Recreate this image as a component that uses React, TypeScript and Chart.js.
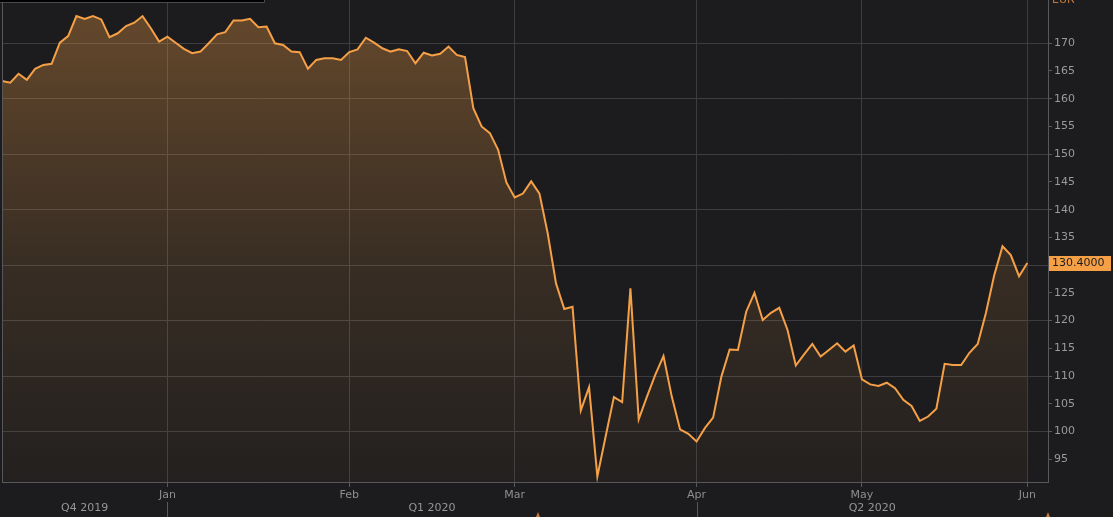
import React, { useEffect, useRef } from "react";
import { Chart, registerables } from "chart.js";

Chart.register(...registerables);

// Daily closing prices (EUR), one per trading day, Dec 2019 – 1 Jun 2020
const prices: number[] = [
  163.2, 162.9, 164.5, 163.4, 165.4, 166.1, 166.3, 170.1, 171.3, 174.9,
  174.4, 174.9, 174.3, 171.1, 171.8, 173.1, 173.7, 174.9, 172.7, 170.3,
  171.2, 170.1, 169.0, 168.2, 168.5, 170.0, 171.6, 172.0, 174.1, 174.1,
  174.4, 172.9, 173.0, 170.0, 169.7, 168.5, 168.4, 165.4, 167.0, 167.3,
  167.3, 167.0, 168.4, 168.9, 171.0, 170.1, 169.1, 168.5, 168.9, 168.6,
  166.4, 168.3, 167.8, 168.1, 169.4, 167.9, 167.5, 158.3, 155.0, 153.8,
  150.8, 144.9, 142.2, 142.9, 145.1, 142.9, 135.7, 126.7, 122.1, 122.5,
  103.8, 108.0, 91.9, 99.1, 106.2, 105.3, 125.8, 102.2, 106.3, 110.2,
  113.6, 106.3, 100.4, 99.6, 98.2, 100.6, 102.5, 109.9, 114.8, 114.7,
  121.6, 125.0, 120.1, 121.4, 122.3, 118.3, 111.9, 113.9, 115.8, 113.5,
  114.7, 115.9, 114.4, 115.5, 109.4, 108.5, 108.2, 108.8, 107.8, 105.7,
  104.6, 101.9, 102.7, 104.1, 112.2, 112.0, 112.0, 114.2, 115.8, 121.4,
  128.2, 133.4, 131.8, 128.0, 130.4,
];

// Trading-day index of the first session of each month
const monthTickIndex: number[] = [20, 42, 62, 84, 104, 124];
const monthLabels: string[] = ["Jan", "Feb", "Mar", "Apr", "May", "Jun"];

// Trading-day index where each quarter starts (first one is the visible start)
const quarterStartIndex: number[] = [0, 20, 84];
const quarterLabels: string[] = ["Q4 2019", "Q1 2020", "Q2 2020"];

const yTickValues: number[] = [95, 100, 105, 110, 115, 120, 125, 130, 135, 140, 145, 150, 155, 160, 165, 170];

const lastValueLabel = "130.4000";
const currencyLabel = "EUR";

const BG = "#1c1c1e";
const GRID = "#3d3d40";
const AXIS = "#58585b";
const ORANGE = "#f5a047";
const FONT = '"DejaVu Sans", "Liberation Sans", sans-serif';

const overlayPlugin = {
  id: "overlay",
  beforeDraw(chart: any) {
    const c = chart.ctx;
    c.save();
    c.fillStyle = BG;
    c.fillRect(0, 0, chart.width, chart.height);
    c.restore();
  },
  afterDraw(chart: any) {
    const c = chart.ctx;
    const ca = chart.chartArea;
    const xs = chart.scales.x;
    const ys = chart.scales.y;
    c.save();

    // left frame line
    c.strokeStyle = AXIS;
    c.lineWidth = 1;
    c.beginPath();
    c.moveTo(Math.round(ca.left) + 0.5, ca.top);
    c.lineTo(Math.round(ca.left) + 0.5, ca.bottom);
    c.stroke();

    // quarter labels and separators
    const bounds = quarterStartIndex.map((i) => Math.max(ca.left, xs.getPixelForValue(i)));
    bounds.push(ca.right);
    c.font = `11px ${FONT}`;
    c.fillStyle = "#969696";
    c.textAlign = "center";
    c.textBaseline = "middle";
    quarterLabels.forEach((q, k) => {
      c.fillText(q, (bounds[k] + bounds[k + 1]) / 2, ca.bottom + 26);
    });
    c.strokeStyle = AXIS;
    for (let k = 1; k < quarterStartIndex.length; k++) {
      const x = Math.round(bounds[k]) + 0.5;
      c.beginPath();
      c.moveTo(x, ca.bottom + 20);
      c.lineTo(x, chart.height);
      c.stroke();
    }

    // last value badge
    const last = prices[prices.length - 1];
    const y = ys.getPixelForValue(last);
    c.fillStyle = ORANGE;
    c.fillRect(ca.right + 1, Math.round(y) - 7, 62, 15);
    c.fillStyle = "#1c1c1e";
    c.textAlign = "left";
    c.textBaseline = "middle";
    c.fillText(lastValueLabel, ca.right + 4, Math.round(y) + 0.5);

    // currency label (cut at top)
    c.fillStyle = "#c27a3c";
    c.textBaseline = "alphabetic";
    c.fillText(currencyLabel, ca.right + 4, 3);

    // clipped black box at top-left
    c.fillStyle = "#000";
    c.fillRect(0, 0, 265, 3);
    c.strokeStyle = "#4a4a4a";
    c.beginPath();
    c.moveTo(0, 2.5);
    c.lineTo(264.5, 2.5);
    c.lineTo(264.5, 0);
    c.stroke();

    // small orange marks at the bottom edge
    c.fillStyle = "#c8783a";
    [538, 1048].forEach((mx) => {
      c.beginPath();
      c.moveTo(mx - 2, chart.height);
      c.lineTo(mx, chart.height - 5);
      c.lineTo(mx + 2, chart.height);
      c.closePath();
      c.fill();
    });

    c.restore();
  },
};

export default function App() {
  const canvasRef = useRef<HTMLCanvasElement | null>(null);

  useEffect(() => {
    const canvas = canvasRef.current;
    if (!canvas) return;
    Chart.defaults.font.family = FONT;
    Chart.defaults.font.size = 11;

    const chart = new Chart(canvas, {
      type: "line",
      data: {
        datasets: [
          {
            data: prices.map((v, i) => ({ x: i, y: v })),
            borderColor: ORANGE,
            borderWidth: 2,
            pointRadius: 0,
            tension: 0,
            fill: "start",
            backgroundColor: (ctx: any) => {
              const { chart } = ctx;
              const ca = chart.chartArea;
              if (!ca) return "rgba(245,160,71,0.2)";
              const g = chart.ctx.createLinearGradient(0, ca.top, 0, ca.bottom);
              g.addColorStop(0, "rgba(245,160,71,0.34)");
              g.addColorStop(0.55, "rgba(245,160,71,0.13)");
              g.addColorStop(1, "rgba(245,160,71,0.03)");
              return g;
            },
          },
        ],
      },
      options: {
        animation: false,
        responsive: false,
        devicePixelRatio: 1,
        layout: { padding: { left: 2, top: 0, right: 0, bottom: 0 } },
        plugins: { legend: { display: false }, tooltip: { enabled: false }, title: { display: false } },
        scales: {
          x: {
            type: "linear",
            min: 0,
            max: 126.5,
            afterBuildTicks: (scale: any) => {
              scale.ticks = monthTickIndex.map((v) => ({ value: v }));
            },
            afterFit: (scale: any) => {
              scale.height = 35;
              scale.paddingLeft = 0;
              scale.paddingRight = 0;
            },
            ticks: {
              autoSkip: false,
              maxRotation: 0,
              padding: 2,
              color: "#8e8e8e",
              callback: (value: any) => {
                const k = monthTickIndex.indexOf(Number(value));
                return k >= 0 ? monthLabels[k] : "";
              },
            },
            grid: { color: GRID, tickColor: AXIS, tickLength: 5, drawTicks: true },
            border: { display: true, color: AXIS },
          },
          y: {
            position: "right",
            min: 90.9,
            max: 177.8,
            afterBuildTicks: (scale: any) => {
              scale.ticks = yTickValues.map((v) => ({ value: v }));
            },
            afterFit: (scale: any) => {
              scale.width = 65;
              scale.paddingTop = 0;
              scale.paddingBottom = 0;
            },
            ticks: { padding: 2, color: "#9a9a9a", callback: (v: any) => String(v) },
            grid: {
              color: (ctx: any) => (ctx.tick && ctx.tick.value % 10 === 0 ? GRID : "rgba(0,0,0,0)"),
              tickColor: AXIS,
              tickLength: 4,
            },
            border: { display: true, color: AXIS },
          },
        },
      },
      plugins: [overlayPlugin],
    } as any);

    return () => chart.destroy();
  }, []);

  return (
    <div style={{ position: "fixed", left: 0, top: 0, width: 1113, height: 517, background: BG }}>
      <canvas ref={canvasRef} width={1113} height={517} style={{ display: "block" }} />
    </div>
  );
}
